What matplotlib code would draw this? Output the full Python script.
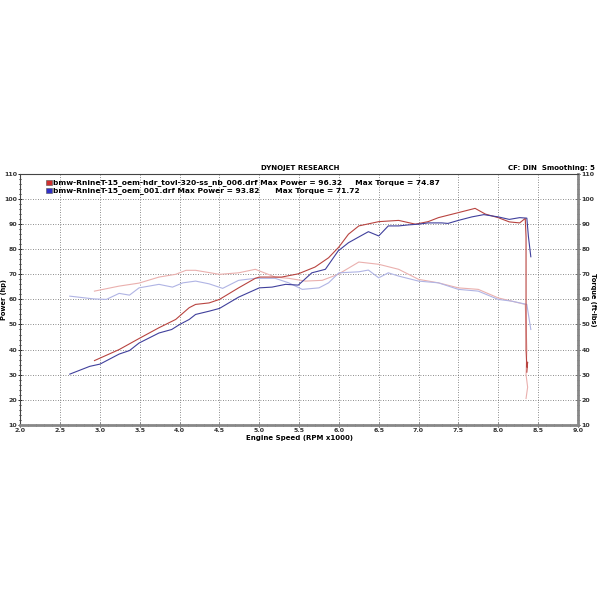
import matplotlib.pyplot as plt
from matplotlib.patches import Rectangle
from matplotlib.ticker import MultipleLocator

# engine speed (RPM x1000) and readings for the two runs
red_power_rpm = [2.93, 3.24, 3.49, 3.74, 3.95, 4.12, 4.2, 4.37, 4.5, 4.74, 4.95, 5.0, 5.28, 5.49,
                 5.7, 5.87, 6.0, 6.12, 6.25, 6.5, 6.75, 6.96, 7.12, 7.25, 7.5, 7.71, 7.84, 8.0,
                 8.14, 8.27, 8.34, 8.35, 8.35, 8.35, 8.36, 8.37, 8.36]
red_power = [35.6, 40, 44.4, 48.7, 52, 56.7, 58, 58.6, 60, 64.6, 68.4, 68.9, 68.9, 70.2,
             72.9, 76.6, 80.9, 86, 89.3, 91, 91.5, 90, 91, 92.6, 94.6, 96.3, 94, 92.6,
             90.9, 90.5, 92.3, 85, 60, 40, 33, 35, 31]

blue_power_rpm = [2.62, 2.87, 3.0, 3.24, 3.37, 3.49, 3.74, 3.9, 4.0, 4.12, 4.2, 4.37, 4.5, 4.74,
                  5.0, 5.16, 5.33, 5.49, 5.66, 5.83, 5.99, 6.12, 6.25, 6.37, 6.5, 6.62, 6.75,
                  6.87, 7.0, 7.12, 7.29, 7.37, 7.5, 7.67, 7.82, 8.0, 8.14, 8.27, 8.36, 8.38, 8.41]
blue_power = [30.2, 33.3, 34.2, 38.2, 39.6, 42.6, 46.6, 48, 50, 52, 54, 55.3, 56.4, 60.9,
              64.6, 64.9, 66, 65.7, 70.6, 72, 79.3, 82.6, 84.9, 87, 85.3, 89.3, 89.3,
              89.7, 90, 90.5, 90.5, 90.3, 91.5, 92.9, 93.8, 92.9, 91.9, 92.6, 92.4, 85, 77]

red_torque_rpm = [2.93, 3.24, 3.49, 3.74, 3.95, 4.08, 4.2, 4.5, 4.74, 4.95, 5.2, 5.37, 5.58, 5.79,
                  5.99, 6.25, 6.5, 6.75, 7.0, 7.25, 7.5, 7.75, 8.0, 8.17, 8.34, 8.35, 8.36,
                  8.35, 8.37, 8.35]
red_torque = [63.3, 65.3, 66.5, 68.9, 70, 71.6, 71.6, 70, 70.6, 72, 68.9, 68.4, 67.3, 67.6,
              70, 74.9, 74, 72, 68, 66.6, 64.6, 64, 60.6, 59.3, 58, 50, 40,
              30, 25, 20.5]

blue_torque_rpm = [2.62, 2.92, 3.08, 3.24, 3.37, 3.49, 3.74, 3.91, 4.04, 4.2, 4.37, 4.54, 4.74,
                   4.95, 5.2, 5.37, 5.54, 5.75, 5.87, 6.0, 6.25, 6.37, 6.5, 6.62, 6.75, 7.0,
                   7.25, 7.5, 7.75, 8.0, 8.17, 8.36, 8.39, 8.41]
blue_torque = [61.3, 60.2, 60, 62.4, 61.7, 64.6, 66, 64.9, 66.6, 67.3, 66.2, 64.4, 67.6,
               68.4, 68.4, 66.6, 64, 64.6, 66.6, 70.6, 71, 71.7, 68.6, 70.6, 69.3, 67.3,
               66.6, 64, 63.3, 60, 59.3, 58, 52, 48]

run_names = ["bmw-RnineT-15_oem-hdr_tovl-320-ss_nb_006.drf Max Power = 96.32     Max Torque = 74.87",
             "bmw-RnineT-15_oem_001.drf Max Power = 93.82      Max Torque = 71.72"]

fig = plt.figure(figsize=(6, 6), dpi=100)
ax = fig.add_axes([0.034, 0.292, 0.929, 0.418])

# torque first (light), power on top (dark)
ax.plot(red_torque_rpm, red_torque, color="#eab0ae", lw=0.8)
ax.plot(blue_torque_rpm, blue_torque, color="#b0b4e4", lw=0.8)
ax.plot(red_power_rpm, red_power, color="#b84440", lw=0.8)
ax.plot(blue_power_rpm, blue_power, color="#40409c", lw=0.8)

ax.set_xlim(2.0, 9.0)
ax.set_ylim(10, 110)
ax.xaxis.set_major_locator(MultipleLocator(0.5))
ax.xaxis.set_minor_locator(MultipleLocator(0.1))
ax.yaxis.set_major_locator(MultipleLocator(10))
ax.yaxis.set_minor_locator(MultipleLocator(2))
ax.xaxis.set_major_formatter(lambda v, p: f"{v:.1f}")
ax.grid(True, which="major", color="#666666", linestyle=(0, (1, 2)), lw=0.6)

ax.tick_params(which="both", labelsize=4.5, length=3, width=0.6, direction="inout",
               right=True, labelright=True, pad=1)
ax.tick_params(which="minor", length=2)
for lab in ax.get_xticklabels() + ax.get_yticklabels():
    lab.set_fontweight("bold")
    lab.set_color("#333333")

for side in ["left", "top"]:
    ax.spines[side].set_color("#444444")
    ax.spines[side].set_linewidth(0.8)
for side in ["right", "bottom"]:
    ax.spines[side].set_color("#888888")
    ax.spines[side].set_linewidth(2)

ax.set_xlabel("Engine Speed (RPM x1000)", fontsize=5, fontweight="bold", labelpad=1)
fig.text(0.007, 0.5, "Power (hp)", rotation=90, fontsize=4.8, fontweight="bold",
         ha="center", va="center")
fig.text(0.988, 0.5, "Torque (ft-lbs)", rotation=-90, fontsize=4.8, fontweight="bold",
         ha="center", va="center")

fig.text(0.5, 0.72, "DYNOJET RESEARCH", fontsize=5, fontweight="bold", ha="center", va="center")
fig.text(0.992, 0.72, "CF: DIN  Smoothing: 5", fontsize=5, fontweight="bold", ha="right", va="center")

# legend block
colors = ["#d03030", "#3030c8"]
for i, (name, c) in enumerate(zip(run_names, colors)):
    y = 0.696 - i * 0.0135
    fig.patches.append(Rectangle((0.077, y - 0.0045), 0.009, 0.009, transform=fig.transFigure,
                                 facecolor=c, edgecolor="#555555", lw=0.4))
    fig.text(0.089, y, name, fontsize=5.4, fontweight="bold", ha="left", va="center")

fig.savefig("out.png", dpi=100, facecolor="white")
